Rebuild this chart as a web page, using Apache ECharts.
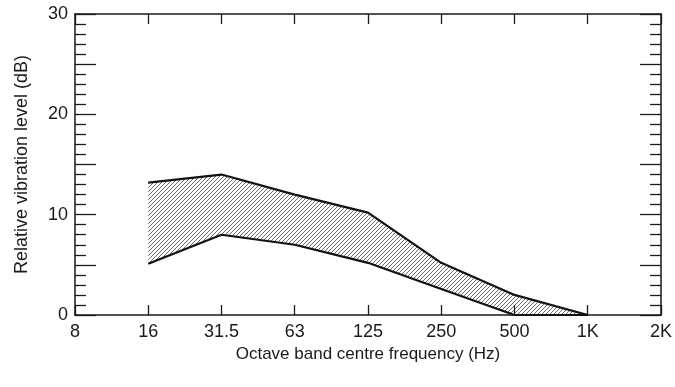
<!DOCTYPE html>
<html>
<head>
<meta charset="utf-8">
<script src="https://cdn.jsdelivr.net/npm/echarts@6/dist/echarts.min.js"></script>
<style>
html,body{margin:0;padding:0;background:#fff;}
#chart{width:675px;height:387px;}
</style>
</head>
<body>
<div id="chart"></div>
<script>
// Data
var categories = ['8', '16', '31.5', '63', '125', '250', '500', '1K', '2K'];
var upperLevel = [null, 13.2, 14.0, 12.0, 10.2, 5.2, 2.0, 0, null];
var lowerLevel = [null, 5.1, 8.0, 7.0, 5.2, 2.6, 0, 0, null];
var yTickValues = [0, 10, 20, 30];

var bandWidth = upperLevel.map(function (u, i) {
  return (u == null || lowerLevel[i] == null) ? null : +(u - lowerLevel[i]).toFixed(2);
});

// hatch pattern
var tile = document.createElement('canvas');
tile.width = 4; tile.height = 4;
var c = tile.getContext('2d');
c.strokeStyle = '#444';
c.lineWidth = 0.8;
c.beginPath();
c.moveTo(0, 4); c.lineTo(4, 0);
c.moveTo(-1, 1); c.lineTo(1, -1);
c.moveTo(3, 5); c.lineTo(5, 3);
c.stroke();

var font = 'Liberation Sans, Arial, sans-serif';
var ink = '#1a1a1a';

var chart = echarts.init(document.getElementById('chart'), null, {renderer: 'canvas'});
chart.setOption({
  animation: false,
  backgroundColor: '#fff',
  grid: {left: 75, right: 11, top: 14, bottom: 72, containLabel: false},
  xAxis: [{
    type: 'category',
    data: categories,
    boundaryGap: false,
    position: 'bottom',
    name: 'Octave band centre frequency (Hz)',
    nameLocation: 'middle',
    nameGap: 28,
    nameTextStyle: {fontFamily: font, fontSize: 17, color: ink},
    axisLine: {onZero: false, lineStyle: {color: ink, width: 1.5}},
    axisTick: {inside: true, length: 10, lineStyle: {color: ink, width: 1.3}, alignWithLabel: true},
    axisLabel: {fontFamily: font, fontSize: 18, color: ink, margin: 8},
    splitLine: {show: false}
  }, {
    type: 'category',
    data: categories,
    boundaryGap: false,
    position: 'top',
    axisLine: {onZero: false, lineStyle: {color: ink, width: 1.5}},
    axisTick: {inside: true, length: 10, lineStyle: {color: ink, width: 1.3}},
    axisLabel: {show: false},
    splitLine: {show: false}
  }],
  yAxis: [{
    type: 'value',
    min: 0, max: 30, interval: 5,
    position: 'left',
    name: 'Relative vibration level (dB)',
    nameLocation: 'middle',
    nameGap: 44,
    nameTextStyle: {fontFamily: font, fontSize: 18, color: ink},
    axisLine: {show: true, onZero: false, lineStyle: {color: ink, width: 1.5}},
    axisTick: {show: true, inside: true, length: 21, lineStyle: {color: ink, width: 1.3}},
    minorTick: {show: true, splitNumber: 5, length: 11, lineStyle: {color: ink, width: 1.3}},
    axisLabel: {
      fontFamily: font, fontSize: 18, color: ink, margin: 7,
      formatter: function (v) { return yTickValues.indexOf(v) >= 0 ? String(v) : ''; }
    },
    splitLine: {show: false}
  }, {
    type: 'value',
    min: 0, max: 30, interval: 5,
    position: 'right',
    axisLine: {show: true, onZero: false, lineStyle: {color: ink, width: 1.5}},
    axisTick: {show: true, inside: true, length: 21, lineStyle: {color: ink, width: 1.3}},
    minorTick: {show: true, splitNumber: 5, length: 11, lineStyle: {color: ink, width: 1.3}},
    axisLabel: {show: false},
    splitLine: {show: false}
  }],
  series: [{
    name: 'lower',
    type: 'line',
    stack: 'band',
    data: lowerLevel,
    symbol: 'none',
    lineStyle: {color: '#111', width: 2.2},
    z: 3
  }, {
    name: 'band',
    type: 'line',
    stack: 'band',
    data: bandWidth,
    symbol: 'none',
    lineStyle: {color: '#111', width: 2.2},
    areaStyle: {color: {image: tile, repeat: 'repeat'}, opacity: 1},
    z: 2
  }]
});
</script>
</body>
</html>
